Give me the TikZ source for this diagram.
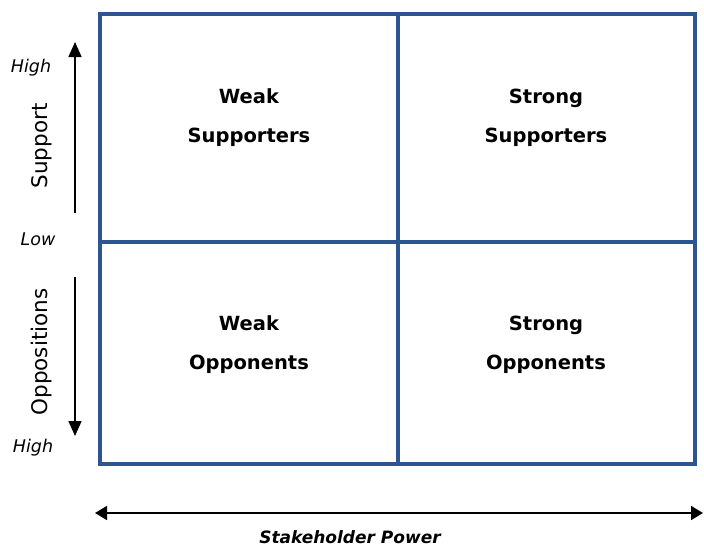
\documentclass[tikz,border=0pt]{standalone}
\usepackage{fontspec}
\setmainfont{DejaVu Sans}
\usetikzlibrary{arrows.meta}
\definecolor{gridblue}{HTML}{2C5591}
\begin{document}
\begin{tikzpicture}[x=1pt,y=-1pt,
  gridline/.style={draw=gridblue,line width=4.8pt},
  cell/.style={font=\fontsize{19.5}{39}\selectfont\bfseries,align=center,text=black},
  axislabel/.style={font=\fontsize{21.5}{24}\selectfont,rotate=90},
  endlabel/.style={font=\fontsize{17.5}{20}\selectfont\itshape},
  axisarrow/.style={line width=1.6pt,-{Triangle[length=15pt,width=13pt]}},
  bothaxis/.style={line width=1.6pt,{Triangle[length=12pt,width=14pt]}-{Triangle[length=12pt,width=14pt]}}]
\useasboundingbox (0,0) rectangle (704,546);

% matrix frame
\coordinate (tl) at (100,14);
\coordinate (br) at (695,464);
\coordinate (mt) at (398,14);
\coordinate (mb) at (398,464);
\coordinate (ml) at (100,242);
\coordinate (mr) at (695,242);
\draw[gridline] (tl) rectangle (br);
\draw[gridline] (mt) -- (mb);
\draw[gridline] (ml) -- (mr);

% quadrant labels
\node[cell] (ws) at (249,118) {Weak\\Supporters};
\node[cell] (ss) at (546,118) {Strong\\Supporters};
\node[cell] (wo) at (249,345) {Weak\\Opponents};
\node[cell] (so) at (546,345) {Strong\\Opponents};

% vertical axis: support upwards, opposition downwards
\coordinate (supFrom) at (75,213);
\coordinate (supTo) at (75,42);
\coordinate (oppFrom) at (75,277);
\coordinate (oppTo) at (75,436);
\draw[axisarrow] (supFrom) -- (supTo);
\draw[axisarrow] (oppFrom) -- (oppTo);
\node[axislabel] (support) at (42,146) {Support};
\node[axislabel] (oppos) at (42,352) {Oppositions};
\node[endlabel] (hiTop) at (31,68) {High};
\node[endlabel] (low) at (38,239) {Low};
\node[endlabel] (hiBot) at (33,448) {High};

% horizontal axis
\coordinate (powL) at (95,513);
\coordinate (powR) at (703,513);
\draw[bothaxis] (powL) -- (powR);
\node[font=\fontsize{17}{20}\selectfont\bfseries\itshape] (power) at (350,537) {Stakeholder Power};
\end{tikzpicture}
\end{document}
